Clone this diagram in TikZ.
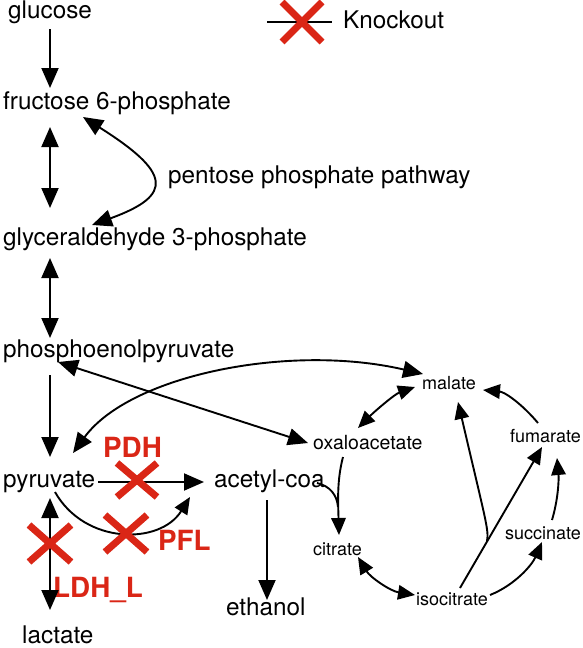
\documentclass[tikz,border=0pt]{standalone}
\usepackage{fontspec}
\setmainfont{TeX Gyre Heros}
\usetikzlibrary{arrows.meta}
\definecolor{koRed}{RGB}{218,38,22}
\begin{document}
\begin{tikzpicture}[x=1pt,y=-1pt,
  lbl/.style={inner sep=0pt, anchor=base west, font=\fontsize{24.3}{28}\selectfont},
  sml/.style={inner sep=0pt, anchor=base west, font=\fontsize{18}{21}\selectfont},
  ko/.style={inner sep=0pt, anchor=base west, text=koRed, font=\fontsize{27.8}{31}\selectfont\bfseries},
  arr/.style={line width=1.9pt, -{Triangle[length=20pt,width=17pt]}},
  darr/.style={line width=1.9pt, {Triangle[length=20pt,width=17pt]}-{Triangle[length=20pt,width=17pt]}},
  sarr/.style={line width=1.9pt, -{Triangle[length=17pt,width=14.5pt]}},
  sdarr/.style={line width=1.9pt, {Triangle[length=17pt,width=14.5pt]}-{Triangle[length=17pt,width=14.5pt]}},
  plain/.style={line width=1.9pt},
  xmark/.style={line width=7pt, draw=koRed},
  ]
\useasboundingbox (0,0) rectangle (582,648);

% main labels
\node[lbl] (glu) at (8,18) {glucose};
\node[lbl] (f6p) at (3,109) {fructose 6-phosphate};
\node[lbl] (ppp) at (168,183) {pentose phosphate pathway};
\node[lbl] (g3p) at (3,245) {glyceraldehyde 3-phosphate};
\node[lbl] (pep) at (3,357) {phosphoenolpyruvate};
\node[lbl] (pyr) at (3,487) {pyruvate};
\node[lbl] (acc) at (214,487) {acetyl-coa};
\node[lbl] (eth) at (226,615) {ethanol};
\node[lbl] (lac) at (22,643) {lactate};
\node[lbl] (kol) at (343,28) {Knockout};

% TCA labels
\node[sml] (mal) at (422,389) {malate};
\node[sml, font=\fontsize{19.5}{22}\selectfont] (oaa) at (313,449) {oxaloacetate};
\node[sml] (fum) at (510,442) {fumarate};
\node[sml] (cit) at (313,555) {citrate};
\node[sml] (suc) at (505,539) {succinate};
\node[sml] (ict) at (416,605) {isocitrate};

% knockout labels
\node[ko] (pdh) at (103,457) {PDH};
\node[ko] (pfl) at (158,550) {PFL};
\node[ko] (ldh) at (53,597) {LDH\_L};

% connector end points
\coordinate (gluS) at (50,29);   \coordinate (f6pN) at (50,88);
\coordinate (f6pS) at (50,127);  \coordinate (g3pN) at (50,208);
\coordinate (g3pS) at (50,258);  \coordinate (pepN) at (50,338);
\coordinate (pepS) at (50,375);  \coordinate (pyrN) at (50,457);
\coordinate (pyrS) at (50,498);  \coordinate (lacN) at (50,610);
\coordinate (pyrE) at (98,482);  \coordinate (accW) at (204,482);
\coordinate (accS) at (267,500); \coordinate (ethN) at (267,600);
\coordinate (f6pR) at (83,117);  \coordinate (g3pR) at (92,225);
\coordinate (pepR) at (58,362);  \coordinate (oaaW) at (308,443);
\coordinate (pyrNE) at (73,453); \coordinate (malW) at (423,374);
\coordinate (pyrSE) at (55,492); \coordinate (accSW) at (190,497);
\coordinate (accE) at (317,483); \coordinate (oaaS) at (343,457);
\coordinate (citN) at (339,535); \coordinate (join) at (338,507);
\coordinate (oaaNE) at (358,428); \coordinate (malSW) at (415,387);
\coordinate (fumN) at (538,423); \coordinate (malE) at (483,390);
\coordinate (sucN) at (552,520); \coordinate (fumS) at (557,458);
\coordinate (ictE) at (490,595); \coordinate (sucS) at (542,542);
\coordinate (citS) at (358,557); \coordinate (ictW) at (415,595);
\coordinate (ictN) at (460,588); \coordinate (fumSW) at (542,447);
\coordinate (branch) at (487,541); \coordinate (malS) at (458,402);
\coordinate (legL) at (267,22); \coordinate (legR) at (332,22);

% glycolysis
\draw[arr] (gluS) -- (f6pN);
\draw[darr] (f6pS) -- (g3pN);
\draw[darr] (g3pS) -- (pepN);
\draw[arr] (pepS) -- (pyrN);
\draw[darr] (pyrS) -- (lacN);
\draw[arr] (pyrE) -- (accW);
\draw[arr] (accS) -- (ethN);
\draw[darr] (f6pR) .. controls (170,172) and (175,195) .. (g3pR);
\draw[darr] (pepR) -- (oaaW);
\draw[darr] (pyrNE) .. controls (130,375) and (290,343) .. (malW);
\draw[sarr] (pyrSE) .. controls (85,545) and (160,545) .. (accSW);

% TCA
\draw[plain] (accE) .. controls (330,486) and (337,495) .. (join);
\draw[sarr] (oaaS) .. controls (337,480) and (338,500) .. (citN);
\draw[sdarr] (oaaNE) .. controls (375,411) and (395,394) .. (malSW);
\draw[sarr] (fumN) .. controls (522,404) and (505,392) .. (malE);
\draw[sarr] (sucN) .. controls (558,500) and (559,480) .. (fumS);
\draw[sarr] (ictE) .. controls (515,585) and (532,565) .. (sucS);
\draw[sdarr] (citS) .. controls (370,577) and (390,591) .. (ictW);
\draw[sarr] (ictN) -- (fumSW);
\draw[sarr] (branch) .. controls (489,530) and (486,522) .. (malS);

% legend
\draw[plain] (legL) -- (legR);
\draw[xmark] (282,2) -- (322,42) (282,42) -- (322,2);

% knockout marks
\draw[xmark] (117,463) -- (157,497) (117,497) -- (157,463);
\draw[xmark] (105,515) -- (147,552) (105,552) -- (147,515);
\draw[xmark] (29,525) -- (71,562) (29,562) -- (71,525);
\end{tikzpicture}
\end{document}
